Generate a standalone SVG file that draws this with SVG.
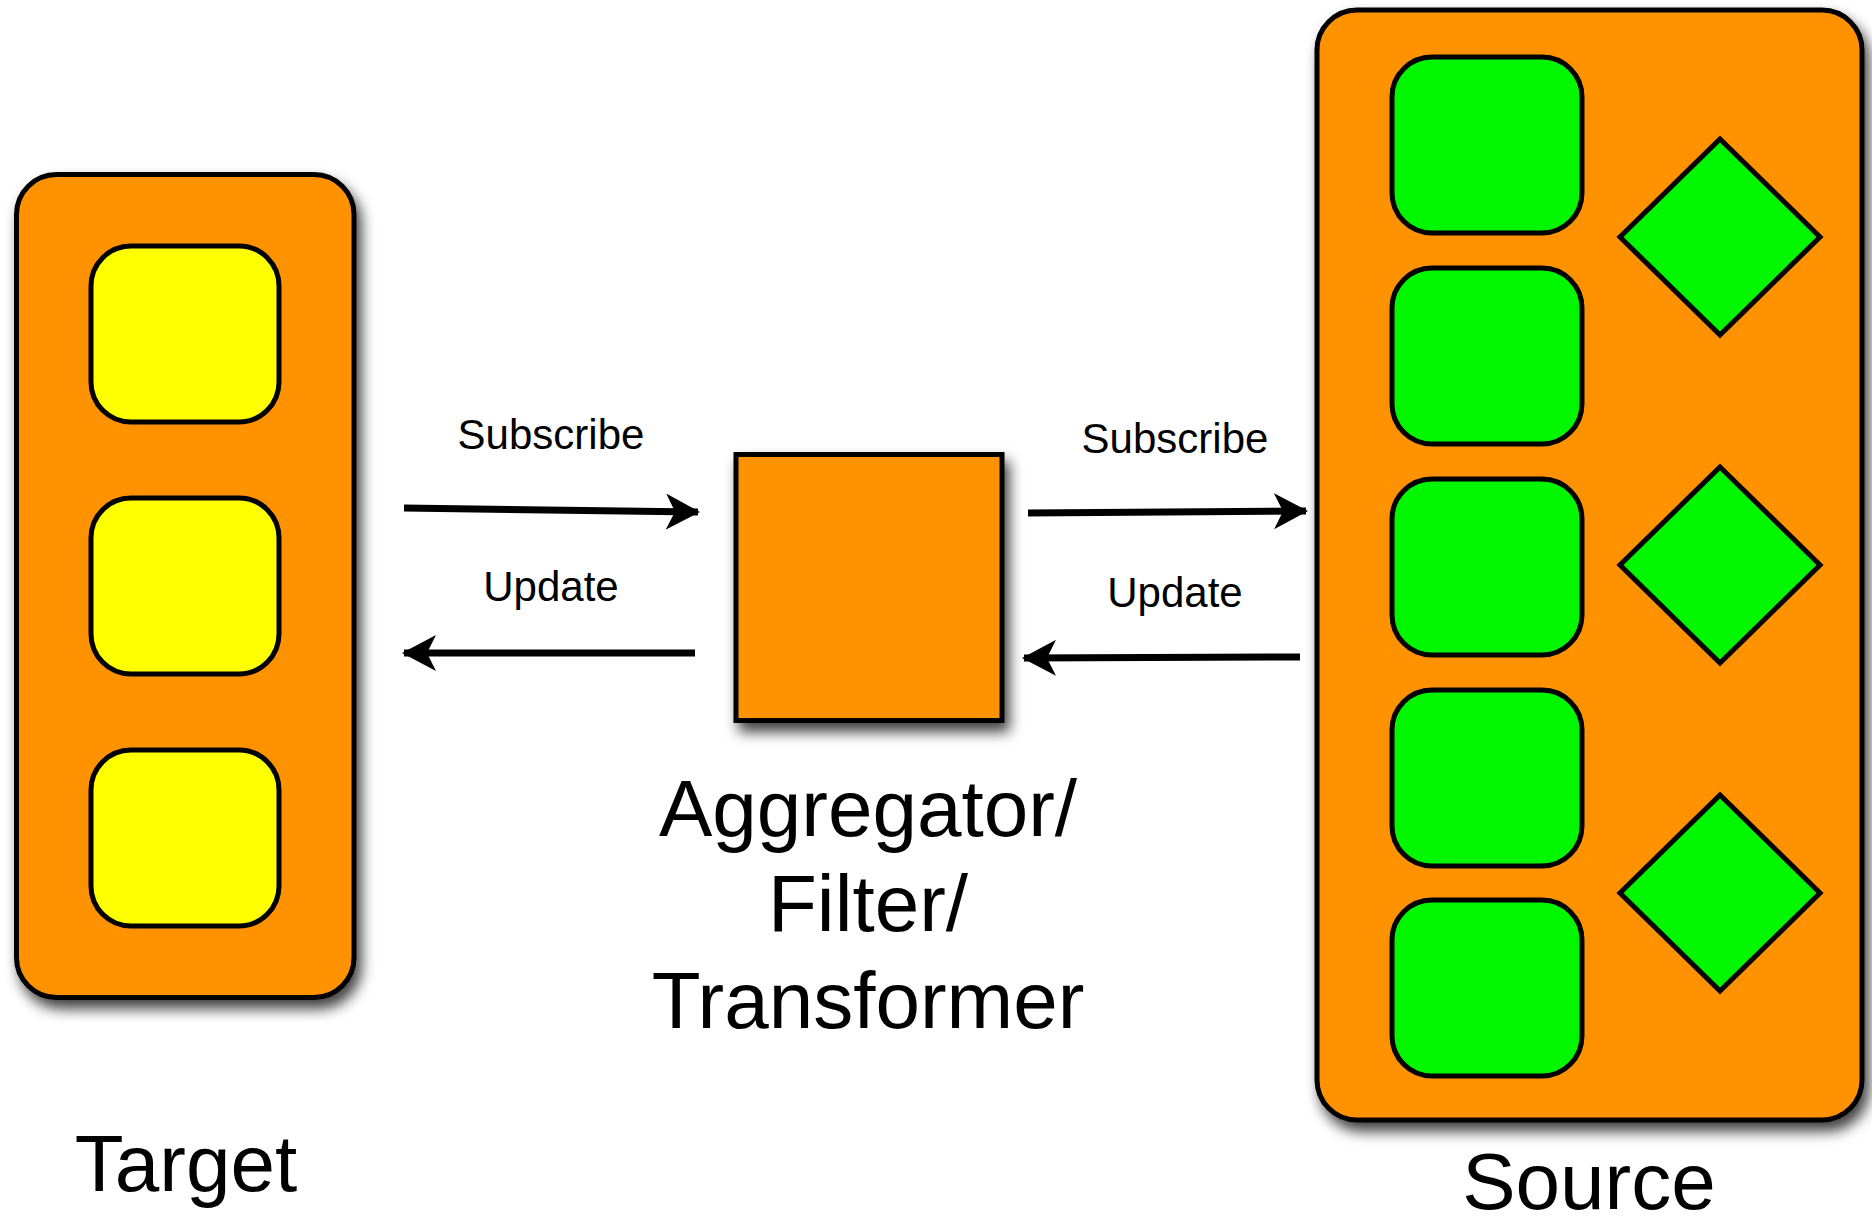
<svg xmlns="http://www.w3.org/2000/svg" width="1872" height="1228" viewBox="0 0 1872 1228">
<defs>
<filter id="sh" x="-20%" y="-20%" width="140%" height="140%">
<feDropShadow dx="5" dy="9" stdDeviation="7" flood-color="#000" flood-opacity="0.75"/>
</filter>
<marker id="ah" viewBox="0 0 34 36" refX="32" refY="18" markerWidth="34" markerHeight="36" markerUnits="userSpaceOnUse" orient="auto">
<path d="M0,0 L34,18 L0,36 L9,18 Z" fill="#000"/>
</marker>
</defs>
<style>
.cont{fill:#ff9200;stroke:#000;stroke-width:5}
.yel{fill:#ffff00;stroke:#000;stroke-width:5}
.grn{fill:#00f700;stroke:#000;stroke-width:5}
.big{font-family:"Liberation Sans",Arial,sans-serif;font-size:80px;fill:#000;text-anchor:middle}
.lbl{font-family:"Liberation Sans",Arial,sans-serif;font-size:42px;fill:#000;text-anchor:middle}
.arr{stroke:#000;stroke-width:7;fill:none;marker-end:url(#ah)}
</style>
<rect width="1872" height="1228" fill="#fff"/>

<g id="target">
<rect class="cont" x="16.5" y="174.5" width="337.5" height="823" rx="40" filter="url(#sh)"/>
<rect class="yel" x="91" y="246" width="188" height="176" rx="40"/>
<rect class="yel" x="91" y="498" width="188" height="176" rx="40"/>
<rect class="yel" x="91" y="750" width="188" height="176" rx="40"/>
<text class="big" x="186" y="1191">Target</text>
</g>

<g id="aggregator">
<rect class="cont" x="736" y="454.5" width="266" height="266" filter="url(#sh)"/>
<text class="big" x="868" y="836">Aggregator/</text>
<text class="big" x="868" y="931">Filter/</text>
<text class="big" x="868" y="1028">Transformer</text>
</g>

<g id="source">
<rect class="cont" x="1317" y="10" width="545" height="1110" rx="40" filter="url(#sh)"/>
<rect class="grn" x="1392" y="57" width="190" height="176" rx="40"/>
<rect class="grn" x="1392" y="268" width="190" height="176" rx="40"/>
<rect class="grn" x="1392" y="479" width="190" height="176" rx="40"/>
<rect class="grn" x="1392" y="690" width="190" height="176" rx="40"/>
<rect class="grn" x="1392" y="900" width="190" height="176" rx="40"/>
<polygon class="grn" points="1720,139 1820,237 1720,335 1620,237"/>
<polygon class="grn" points="1720,467 1820,565 1720,663 1620,565"/>
<polygon class="grn" points="1720,795 1820,893 1720,991 1620,893"/>
<text class="big" x="1589" y="1209">Source</text>
</g>

<g id="connectors">
<line class="arr" x1="404" y1="508" x2="698" y2="512"/>
<line class="arr" x1="695" y1="653" x2="404" y2="653"/>
<line class="arr" x1="1028" y1="513" x2="1306" y2="511"/>
<line class="arr" x1="1300" y1="657" x2="1024" y2="658"/>
<text class="lbl" x="551" y="449">Subscribe</text>
<text class="lbl" x="551" y="601">Update</text>
<text class="lbl" x="1175" y="453">Subscribe</text>
<text class="lbl" x="1175" y="607">Update</text>
</g>
</svg>
